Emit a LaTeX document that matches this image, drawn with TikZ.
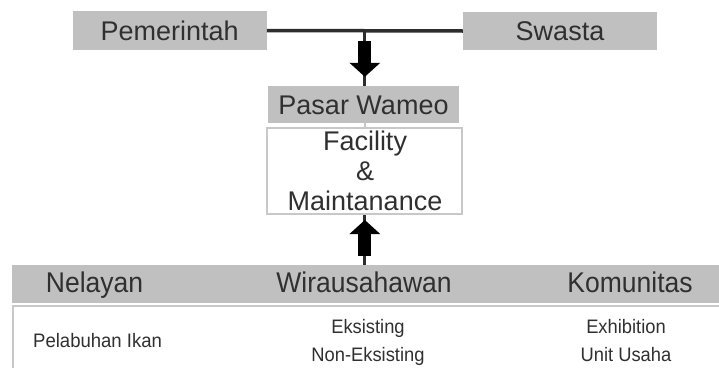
\documentclass[tikz,border=0pt]{standalone}
\usepackage{fontspec}
\usepackage{graphicx}
\setmainfont{Liberation Sans}
\usetikzlibrary{arrows.meta,calc}
\definecolor{boxgray}{RGB}{192,192,192}
\definecolor{bordergray}{RGB}{200,200,200}
\definecolor{txt}{RGB}{48,48,48}
\definecolor{linec}{RGB}{45,45,45}
\newcommand{\narrowtxt}[2]{\scalebox{#1}[1]{#2}}
\tikzset{
  bigfont/.style={font=\fontsize{27}{24}\selectfont},
  barfont/.style={font=\fontsize{28.5}{24}\selectfont},
  smallfont/.style={font=\fontsize{19.5}{20}\selectfont},
  graybox/.style={fill=boxgray, draw=none, inner sep=0pt, text=txt, bigfont, text height=19.5pt, text depth=0pt},
  whitebox/.style={fill=white, draw=bordergray, line width=2pt, inner sep=0pt},
  mainline/.style={draw=linec, line width=3.5pt},
  thinline/.style={draw=linec, line width=3pt},
  fatarrow/.style={draw=black, line width=13pt, -{Triangle[width=30pt,length=14pt]}},
  lbl/.style={text=txt, inner sep=0pt, anchor=base},
}
\begin{document}
\begin{tikzpicture}[x=1pt,y=-1pt]
\useasboundingbox (0,0) rectangle (719,367);
% top boxes
\node[graybox, minimum width=194pt, minimum height=39pt] (pem) at (169.7,30.5) {Pemerintah};
\node[graybox, minimum width=194pt, minimum height=38pt] (swa) at (560,31) {Swasta};
\draw[mainline] (pem.east) -- (swa.west) coordinate[pos=0.5] (j);
% centre
\node[graybox, minimum width=191pt, minimum height=37pt] (pasar) at (363.5,104.5) {Pasar Wameo};
\node[whitebox, minimum width=195pt, minimum height=86pt] (fac) at (364.5,171) {};
\node[lbl, bigfont] (fac1) at (365,150) {Facility};
\node[lbl, bigfont] (fac2) at (365,180) {\&};
\node[lbl, bigfont] (fac3) at (365,210) {Maintanance};
\draw[thinline] (j) -- (j |- pasar.north);
\draw[fatarrow, shorten <=10pt, shorten >=9pt] (j) -- (j |- pasar.north);
\draw[draw=bordergray, line width=2pt] (pasar.south -| j) -- (fac.north -| j);
% bottom
\node[fill=boxgray, inner sep=0pt, minimum width=708pt, minimum height=38pt] (bar) at (366,284) {};
\draw[whitebox] (12.5,306) rectangle (724,372);
\draw[thinline] (fac.south -| j) -- (bar.north -| j);
\draw[fatarrow, shorten <=9pt, shorten >=5pt] (bar.north -| j) -- (fac.south -| j);
\node[lbl, barfont] (nel) at (94.5,292.5) {\narrowtxt{0.93}{Nelayan}};
\node[lbl, barfont] (wir) at (364,292.5) {\narrowtxt{0.93}{Wirausahawan}};
\node[lbl, barfont] (kom) at (630,292.5) {\narrowtxt{0.93}{Komunitas}};
\node[lbl, smallfont, anchor=base west] (pel) at (33,347) {\narrowtxt{0.95}{Pelabuhan Ikan}};
\node[lbl, smallfont] (eks) at (368,333) {\narrowtxt{0.94}{Eksisting}};
\node[lbl, smallfont] (neks) at (368,361.5) {\narrowtxt{0.94}{Non-Eksisting}};
\node[lbl, smallfont] (exh) at (626,333) {\narrowtxt{0.94}{Exhibition}};
\node[lbl, smallfont] (unit) at (626,361.5) {\narrowtxt{0.94}{Unit Usaha}};
\end{tikzpicture}
\end{document}
